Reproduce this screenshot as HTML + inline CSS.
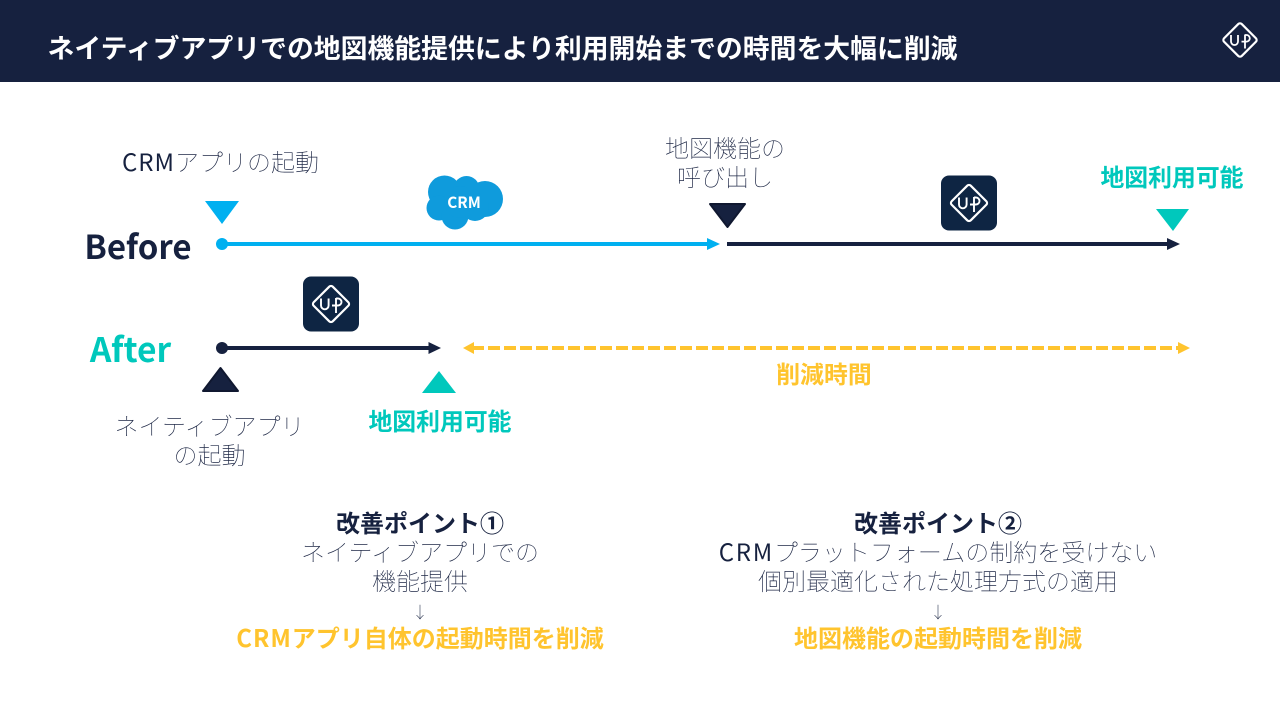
<!DOCTYPE html>
<html lang="ja"><head><meta charset="utf-8">
<style>
html,body{margin:0;padding:0;background:#fff}
#p{position:relative;width:1280px;height:720px;overflow:hidden;background:#fff;font-family:"Liberation Sans","Noto Sans CJK JP",sans-serif;color:#16213f}
.t{position:absolute;white-space:nowrap;font-family:"Noto Sans CJK JP",sans-serif;font-weight:100;font-size:24px;line-height:30px;transform:translateX(-50%);text-align:center;color:#1c2644}
.b{font-weight:700;color:#16213f}
.g{color:#ffc42e}
.c{color:#00c8bc}
.s1{letter-spacing:1px}
.s2{letter-spacing:1.7px}
.r{font-weight:400;color:#16213f}
svg{position:absolute;left:0;top:0}
</style></head><body><div id="p">
<svg width="1280" height="720" viewBox="0 0 1280 720">
<rect x="0" y="0" width="1280" height="82" fill="#16213f"/>
<!-- header logo -->
<g transform="translate(1240,40)">
<rect x="-12.500" y="-12.500" width="25" height="25" rx="2.500" transform="rotate(45)" fill="none" stroke="#fff" stroke-width="2.200"/>
<path d="M-9-5V1.500a3.500 3.500 0 0 0 7 0V-5M5-5.500V8.500M5-5H6.500a3.300 3.300 0 0 1 0 6.600H1.500" fill="none" stroke="#fff" stroke-width="1.800"/>
</g>
<!-- Before lines -->
<circle cx="222" cy="244" r="6" fill="#00b0f0"/>
<line x1="222" y1="244" x2="710" y2="244" stroke="#00b0f0" stroke-width="4"/>
<polygon points="707,238 720,244 707,250" fill="#00b0f0"/>
<line x1="727" y1="244" x2="1170" y2="244" stroke="#16213f" stroke-width="4"/>
<polygon points="1167,238 1180,244 1167,250" fill="#16213f"/>
<polygon points="205,201 239,201 222,224" fill="#00b0f0"/>
<polygon points="710,204 745,204 727.500,227" fill="#16213f" stroke="#101830" stroke-width="2" stroke-linejoin="round"/>
<polygon points="1156,209 1189,209 1173,231" fill="#00c8bc"/>
<!-- cloud -->
<g fill="#0f9bdc">
<circle cx="444.500" cy="192" r="16.500"/><circle cx="466.500" cy="189" r="13"/><circle cx="485" cy="199" r="18"/><circle cx="439" cy="208" r="12.500"/><circle cx="455" cy="216" r="13.500"/><circle cx="475" cy="207" r="14"/><circle cx="460" cy="202" r="16"/>
</g>
<!-- app icons -->
<g transform="translate(969,203)">
<rect x="-28" y="-27.500" width="56" height="55" rx="8" fill="#0e2543"/>
<rect x="-13.500" y="-13.500" width="27" height="27" rx="2.500" transform="rotate(45)" fill="none" stroke="#fff" stroke-width="2.200"/>
<path d="M-10-5.500V1.500a3.800 3.800 0 0 0 7.600 0V-5.500M5-6V9M5-5.500H7a3.500 3.500 0 0 1 0 7H1" fill="none" stroke="#fff" stroke-width="1.900"/>
</g>
<g transform="translate(331,304)">
<rect x="-28" y="-27.500" width="56" height="55" rx="8" fill="#0e2543"/>
<rect x="-13.500" y="-13.500" width="27" height="27" rx="2.500" transform="rotate(45)" fill="none" stroke="#fff" stroke-width="2.200"/>
<path d="M-10-5.500V1.500a3.800 3.800 0 0 0 7.600 0V-5.500M5-6V9M5-5.500H7a3.500 3.500 0 0 1 0 7H1" fill="none" stroke="#fff" stroke-width="1.900"/>
</g>
<!-- After lines -->
<circle cx="222" cy="348" r="6" fill="#16213f"/>
<line x1="222" y1="348" x2="431" y2="348" stroke="#16213f" stroke-width="4"/>
<polygon points="428.500,342 441,348 428.500,354" fill="#16213f"/>
<polygon points="203,391 238,391 220.500,368" fill="#16213f" stroke="#101830" stroke-width="2" stroke-linejoin="round"/>
<polygon points="422,393 456,393 439,371" fill="#00c8bc"/>
<line x1="472" y1="348" x2="1180" y2="348" stroke="#ffc42e" stroke-width="4" stroke-dasharray="12 4"/>
<polygon points="474,342 463,348 474,354" fill="#ffc42e"/>
<polygon points="1178,342 1190,348 1178,354" fill="#ffc42e"/>
</svg>

<div class="t b" style="left:47.500px;top:26.500px;transform:none;color:#fff;font-size:26.850px;line-height:40px">ネイティブアプリでの地図機能提供により利用開始までの時間を大幅に削減</div>

<div class="t" style="left:220.500px;top:146px"><span class="s1 r">CRM</span>アプリの起動</div>
<div class="t b" style="left:464px;top:191px;color:#fff;font-size:15.300px;line-height:22px">CRM</div>
<div class="t" style="left:725px;top:132px;line-height:29px">地図機能の<br>呼び出し</div>
<div class="t b c" style="left:1172px;top:161px;font-size:23.850px">地図利用可能</div>

<div class="t b" style="left:138px;top:225px;font-size:33px;line-height:40px">Before</div>
<div class="t b c" style="left:130.500px;top:328px;font-size:33.600px;line-height:40px">After</div>

<div class="t" style="left:209.500px;top:410px;line-height:29px">ネイティブアプリ<br>の起動</div>
<div class="t b c" style="left:440px;top:405px;font-size:23.850px">地図利用可能</div>
<div class="t b g" style="left:824px;top:358px;font-size:23.850px">削減時間</div>

<div class="t" style="left:420px;top:507px;line-height:29px"><span class="b">改善ポイント①</span><br>ネイティブアプリでの<br>機能提供</div>
<div class="t" style="left:420px;top:599px;font-size:16px;line-height:24px">↓</div>
<div class="t b g" style="left:420px;top:621.500px"><span class="s1">CRM</span>アプリ自体の起動時間を削減</div>

<div class="t" style="left:938px;top:507px;line-height:29px"><span class="b">改善ポイント②</span><br><span class="s2 r">CRM</span>プラットフォームの制約を受けない<br>個別最適化された処理方式の適用</div>
<div class="t" style="left:938px;top:599px;font-size:16px;line-height:24px">↓</div>
<div class="t b g" style="left:938px;top:621.500px">地図機能の起動時間を削減</div>
</div></body></html>
